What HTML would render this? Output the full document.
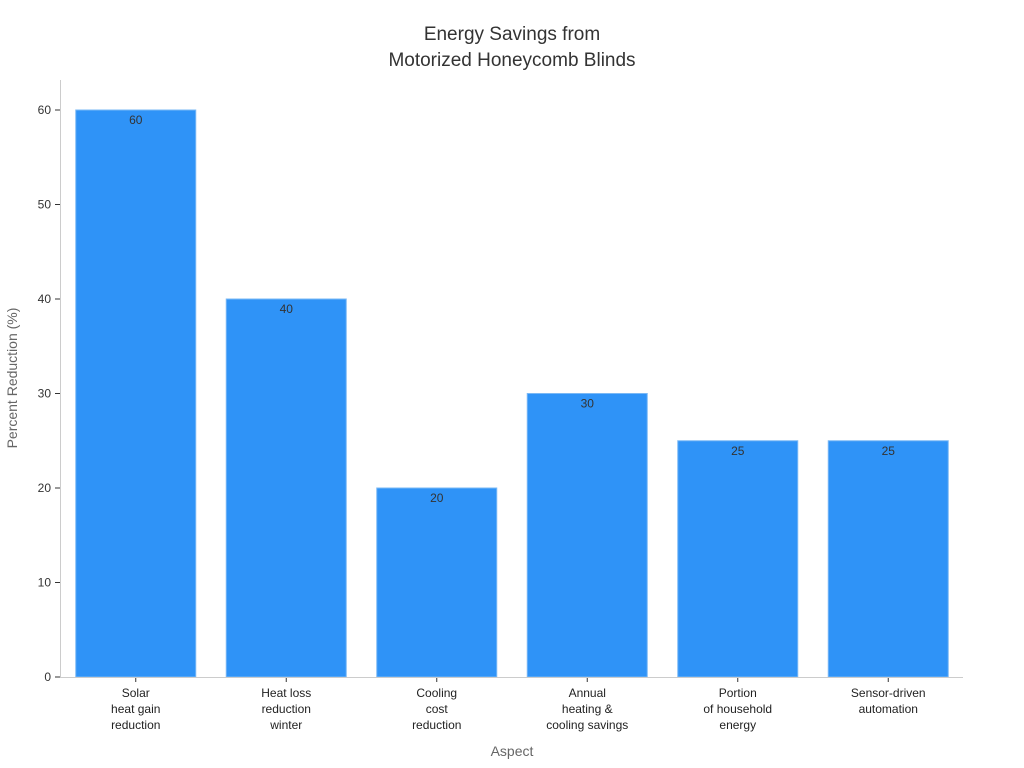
<!DOCTYPE html>
<html><head><meta charset="utf-8">
<style>
body{margin:0;background:#fff;}
svg{display:block;font-family:"Liberation Sans","DejaVu Sans",sans-serif;}
</style></head>
<body>
<svg id="chart" width="1024" height="768" viewBox="0 0 1024 768">
<text x="512" y="40" text-anchor="middle" font-size="19" fill="#333">Energy Savings from</text>
<text x="512" y="66" text-anchor="middle" font-size="19" fill="#333">Motorized Honeycomb Blinds</text>
<text transform="translate(17,378) rotate(-90)" text-anchor="middle" font-size="14" fill="#666">Percent Reduction (%)</text>
<text x="512" y="756" text-anchor="middle" font-size="14" fill="#666">Aspect</text>
<g id="plot"></g>
</svg>
<script>
const categories = [["Solar","heat gain","reduction"],["Heat loss","reduction","winter"],["Cooling","cost","reduction"],["Annual","heating &","cooling savings"],["Portion","of household","energy"],["Sensor-driven","automation"]];
const values = [60, 40, 20, 30, 25, 25];
const yTicks = [0, 10, 20, 30, 40, 50, 60];

const NS = "http://www.w3.org/2000/svg";
const plot = document.getElementById("plot");
const x0 = 60, x1 = 963, yBase = 677, yTop60 = 110;
const yScale = v => yBase - v * (yBase - yTop60) / 60;
const step = (x1 - x0) / categories.length;
const xCenter = i => x0 + step * (i + 0.5) + 0.5;
const barW = 120;
function mk(tag, attrs){const e=document.createElementNS(NS,tag);for(const k in attrs)e.setAttribute(k,attrs[k]);plot.appendChild(e);return e;}

yTicks.forEach(t=>{
  const y=yScale(t);
  const tk=mk("line",{x1:55,x2:60,y1:y,y2:y,stroke:"#333","stroke-width":1});
  
  
  const lb=mk("text",{x:51,y:y+4,"text-anchor":"end","font-size":12,fill:"#333"});
  lb.textContent=t;
  
  
});

values.forEach((v,i)=>{
  const cx=xCenter(i), y=yScale(v);
  const r=mk("rect",{x:cx-barW/2,y:y,width:barW,height:yBase-y,fill:"#2f93f7",stroke:"#7ab8f5","stroke-width":1});
  
  
  const vl=mk("text",{x:cx,y:y+14,"text-anchor":"middle","font-size":12,fill:"#333"});
  vl.textContent=v;
  
  
  const tk=mk("line",{x1:cx,x2:cx,y1:yBase,y2:yBase+5,stroke:"#333","stroke-width":1});
  
  
  categories[i].forEach((ln,j)=>{
    const t=mk("text",{x:cx,y:yBase+20+j*16,"text-anchor":"middle","font-size":12,fill:"#222"});
    t.textContent=ln;
    
    
  });
});

const ya=mk("line",{x1:60.5,x2:60.5,y1:80,y2:yBase,stroke:"#ccc","stroke-width":1});


const xa=mk("line",{x1:60,x2:x1,y1:yBase+0.5,y2:yBase+0.5,stroke:"#ccc","stroke-width":1});


</script>
</body></html>
